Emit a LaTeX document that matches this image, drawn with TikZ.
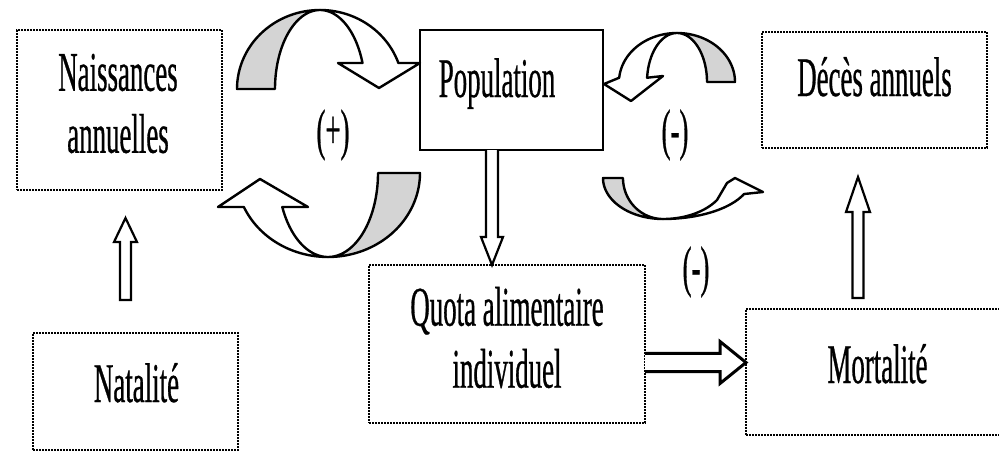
\documentclass[tikz,border=0pt]{standalone}
\usepackage{fontspec}
\usetikzlibrary{calc}
\newfontfamily\cond[FakeStretch=0.48, FakeBold=0.5]{Liberation Serif}
\definecolor{backgrey}{HTML}{D4D4D4}
\tikzset{
  dotbox/.style={draw, line width=2.4pt, dash pattern=on 1.7pt off 1.3pt, inner sep=0pt},
  solidbox/.style={draw, line width=2.6pt, inner sep=0pt},
  txt/.style={font=\cond\fontsize{56}{62}\selectfont, inner sep=0pt, align=center},
  blk/.style={draw, fill=white, line width=2.2pt, line join=miter},
  ribbon/.style={draw, line width=2.4pt, line join=round},
  back/.style={ribbon, fill=backgrey},
  front/.style={ribbon, fill=white},
}
\begin{document}
\begin{tikzpicture}[x=1pt, y=-1pt]
\useasboundingbox (0,0) rectangle (999,455);

% boxes
\node[dotbox, minimum width=205pt, minimum height=160pt] (nais) at (119.5,110) {};
\node[solidbox, minimum width=183pt, minimum height=120pt] (pop) at (511.5,90) {};
\node[dotbox, minimum width=225pt, minimum height=116pt] (deces) at (874.5,90) {};
\node[dotbox, minimum width=205pt, minimum height=117pt] (natal) at (135.5,391.5) {};
\node[dotbox, minimum width=276pt, minimum height=158pt] (quota) at (507,344) {};
\node[dotbox, minimum width=262pt, minimum height=126pt] (mort) at (877,372) {};

% box texts
\node[txt] (naisT) at (118,103.5) {Naissances\\annuelles};
\node[txt, anchor=base] (popT) at (497,97) {Population};
\node[txt, anchor=base] (decesT) at (874.5,96) {Décès annuels};
\node[txt, anchor=base] (natalT) at (136.5,402) {Natalité};
\node[txt] (quotaT) at (507,337.5) {Quota alimentaire\\individuel};
\node[txt, anchor=base] (mortT) at (877.5,383) {Mortalité};

% loop signs
\node[txt] (plus) at (333,135) {(+)};
\node[txt] (minusA) at (675,135) {(-)};
\node[txt] (minusB) at (696,272) {(-)};

% straight block arrows
\coordinate (natTail) at (125.5,300);
\coordinate (natTip) at (125.5,218);
\draw[blk] ($(natTail)+(-5.5,0)$) -- ($(natTip)+(-5.5,24)$) -- ($(natTip)+(-11.5,24)$)
  -- (natTip) -- ($(natTip)+(11.5,24)$) -- ($(natTip)+(5.5,24)$) -- ($(natTail)+(5.5,0)$) -- cycle;

\coordinate (morTail) at (858,298);
\coordinate (morTip) at (858,177);
\draw[blk] ($(morTail)+(-5.5,0)$) -- ($(morTip)+(-5.5,35)$) -- ($(morTip)+(-12,35)$)
  -- (morTip) -- ($(morTip)+(12,35)$) -- ($(morTip)+(5.5,35)$) -- ($(morTail)+(5.5,0)$) -- cycle;

\coordinate (popOut) at (492,150);
\coordinate (quotaIn) at (492,265);
\draw[blk] ($(popOut)+(-6,0)$) -- ($(quotaIn)+(-6,-28)$) -- ($(quotaIn)+(-11,-28)$)
  -- (quotaIn) -- ($(quotaIn)+(11,-28)$) -- ($(quotaIn)+(6,-28)$) -- ($(popOut)+(6,0)$);

\coordinate (quotaOut) at (645,362.5);
\coordinate (mortIn) at (746,362.5);
\draw[blk, line width=3pt] ($(quotaOut)+(0,-9.2)$) -- ($(mortIn)+(-26,-9.2)$) -- ($(mortIn)+(-26,-21)$)
  -- (mortIn) -- ($(mortIn)+(-26,21)$) -- ($(mortIn)+(-26,9.2)$) -- ($(quotaOut)+(0,9.2)$);

% curved arrow over the top, into Population
\filldraw[back] plot[domain=180:90, samples=40, variable=\t] ({320+83*cos(\t)}, {89-79*sin(\t)})
  -- plot[domain=90:180, samples=40, variable=\t] ({320+45*cos(\t)}, {89-79*sin(\t)}) -- cycle;
\filldraw[front] plot[domain=90:19.2, samples=40, variable=\t] ({320+83*cos(\t)}, {89-79*sin(\t)})
  -- (420,63) -- (379,88) -- (338,63)
  -- plot[domain=19.2:90, samples=40, variable=\t] ({320+45*cos(\t)}, {89-79*sin(\t)}) -- cycle;

% curved arrow underneath, back to the births
\filldraw[back] plot[domain=0:-90, samples=40, variable=\t] ({328+92*cos(\t)}, {173-84*sin(\t)})
  -- plot[domain=-90:0, samples=40, variable=\t] ({328+50*cos(\t)}, {173-84*sin(\t)}) -- cycle;
\filldraw[front] plot[domain=270:203.9, samples=40, variable=\t] ({328+92*cos(\t)}, {173-84*sin(\t)})
  -- (218,207) -- (260,179) -- (308,207)
  -- plot[domain=203.9:270, samples=40, variable=\t] ({328+50*cos(\t)}, {173-84*sin(\t)}) -- cycle;

% curved arrow from the deaths side back into Population
\filldraw[back] plot[domain=0:90, samples=40, variable=\t] ({677+58*cos(\t)}, {82-49*sin(\t)})
  -- plot[domain=90:0, samples=40, variable=\t] ({677+30*cos(\t)}, {82-49*sin(\t)}) -- cycle;
\filldraw[front] plot[domain=90:175, samples=40, variable=\t] ({677+58*cos(\t)}, {82-49*sin(\t)})
  -- (604,84) -- (631,101) -- (663,76)
  -- plot[domain=175:90, samples=40, variable=\t] ({677+30*cos(\t)}, {82-49*sin(\t)}) -- cycle;

% curved arrow below, out towards the deaths
\filldraw[back] plot[domain=180:270, samples=40, variable=\t] ({663+60*cos(\t)}, {178-41*sin(\t)})
  -- plot[domain=270:180, samples=40, variable=\t] ({663+40*cos(\t)}, {178-41*sin(\t)}) -- cycle;
\filldraw[front] plot[domain=270:337, samples=40, variable=\t] ({663+88*cos(\t)}, {178-41*sin(\t)})
  -- (763,192) -- (735,178) -- (727,183)
  -- plot[domain=327.6:270, samples=40, variable=\t] ({663+64*cos(\t)}, {178-41*sin(\t)}) -- cycle;
\end{tikzpicture}
\end{document}
